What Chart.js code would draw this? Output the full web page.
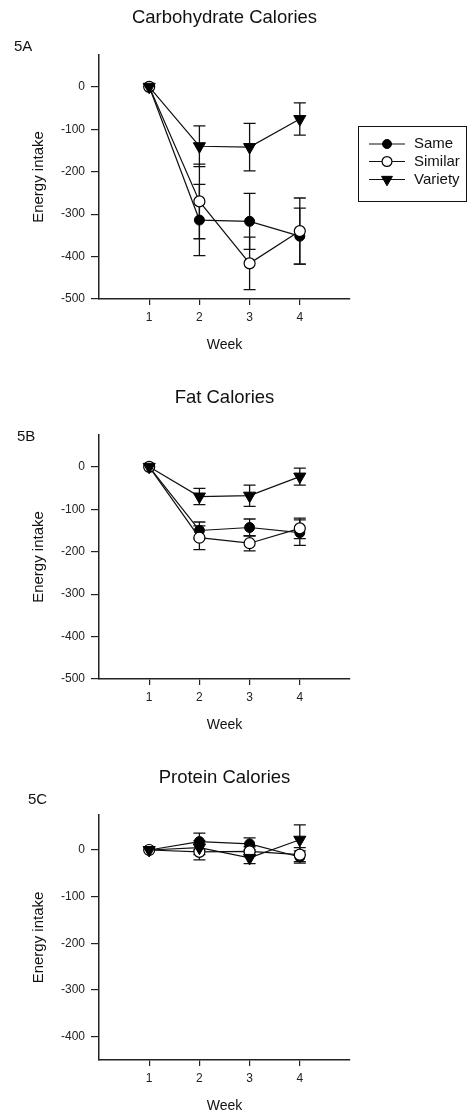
<!DOCTYPE html>
<html>
<head>
<meta charset="utf-8">
<title>Energy intake by week</title>
<script src="https://cdn.jsdelivr.net/npm/chart.js@4/dist/chart.umd.min.js"></script>
<style>
  html, body { margin: 0; padding: 0; background: #fff; overflow: hidden; }
  #page { position: relative; width: 468px; height: 1115px; overflow: hidden; }
  .panel { position: absolute; left: 0; width: 468px; }
  canvas { display: block; }
</style>
</head>
<body>
<div id="page">
  <div class="panel" style="top:0px"><canvas id="carb" width="468" height="360"></canvas></div>
  <div class="panel" style="top:380px"><canvas id="fat" width="468" height="360"></canvas></div>
  <div class="panel" style="top:760px"><canvas id="protein" width="468" height="360"></canvas></div>
</div>
<script>
// Study weeks and group names
const weeks = [1, 2, 3, 4];
const groupNames = ['Same', 'Similar', 'Variety'];

// Change in energy intake (mean and error) per group
const carbSame = [0, -314, -317, -352];
const carbSameErr = [0, 84, 66, 66];
const carbSimilar = [0, -270, -416, -340];
const carbSimilarErr = [0, 88, 62, 78];
const carbVariety = [0, -140, -142, -76];
const carbVarietyErr = [0, 48, 56, 38];

const fatSame = [0, -150, -143, -155];
const fatSameErr = [0, 20, 20, 30];
const fatSimilar = [0, -167, -180, -145];
const fatSimilarErr = [0, 28, 18, 24];
const fatVariety = [0, -70, -68, -23];
const fatVarietyErr = [0, 19, 25, 20];

const proteinSame = [0, 18, 13, -15];
const proteinSameErr = [0, 18, 13, 13];
const proteinSimilar = [0, -4, -3, -10];
const proteinSimilarErr = [0, 17, 10, 15];
const proteinVariety = [0, 5, -17, 22];
const proteinVarietyErr = [0, 15, 12, 32];

// Axis tick values
const yTicksFull = [0, -100, -200, -300, -400, -500];
const yTicksShort = [0, -100, -200, -300, -400];

const FONT = "'Liberation Sans', Arial, Helvetica, sans-serif";
const INK = '#111';

// Marker look for each group
const markerStyles = {
  Same:    { pointStyle: 'circle',   radius: 5,   rotation: 0,   fill: '#000', borderWidth: 1 },
  Similar: { pointStyle: 'circle',   radius: 5.5, rotation: 0,   fill: '#fff', borderWidth: 1.2 },
  Variety: { pointStyle: 'triangle', radius: 7,   rotation: 180, fill: '#000', borderWidth: 1 }
};

// Vertical error bars with caps, drawn under the markers
const errorBarPlugin = {
  id: 'errorBars',
  beforeDatasetsDraw(chart) {
    const { ctx } = chart;
    const xs = chart.scales.x, ys = chart.scales.y;
    ctx.save();
    ctx.strokeStyle = INK;
    ctx.lineWidth = 1.3;
    chart.data.datasets.forEach(ds => {
      const errs = ds.errorValues || [];
      ds.data.forEach((p, i) => {
        const e = errs[i];
        if (!e) return;
        const x = xs.getPixelForValue(p.x);
        const yTop = ys.getPixelForValue(p.y + e);
        const yBot = ys.getPixelForValue(p.y - e);
        ctx.beginPath();
        ctx.moveTo(x, yTop); ctx.lineTo(x, yBot);
        ctx.moveTo(x - 6, yTop); ctx.lineTo(x + 6, yTop);
        ctx.moveTo(x - 6, yBot); ctx.lineTo(x + 6, yBot);
        ctx.stroke();
      });
    });
    ctx.restore();
  }
};

// Figure panel tag such as "5A"
const panelTagPlugin = {
  id: 'panelTag',
  afterDraw(chart, args, opts) {
    if (!opts || !opts.text) return;
    const { ctx } = chart;
    ctx.save();
    ctx.font = `15px ${FONT}`;
    ctx.fillStyle = INK;
    ctx.textAlign = 'left';
    ctx.textBaseline = 'middle';
    ctx.fillText(opts.text, opts.x, opts.y);
    ctx.restore();
  }
};

// Boxed legend placed to the right of the plot
const boxLegendPlugin = {
  id: 'boxLegend',
  afterDraw(chart, args, opts) {
    if (!opts || !opts.display) return;
    const { ctx } = chart;
    const b = opts.box;
    ctx.save();
    ctx.strokeStyle = INK;
    ctx.lineWidth = 1;
    ctx.strokeRect(b.x, b.y, b.w, b.h);
    chart.data.datasets.forEach((ds, i) => {
      const y = opts.rows[i];
      const cx = (opts.lineX0 + opts.lineX1) / 2;
      ctx.strokeStyle = INK;
      ctx.lineWidth = 1.2;
      ctx.beginPath();
      ctx.moveTo(opts.lineX0, y); ctx.lineTo(opts.lineX1, y);
      ctx.stroke();
      ctx.fillStyle = ds.pointBackgroundColor;
      ctx.strokeStyle = ds.pointBorderColor;
      ctx.lineWidth = ds.pointBorderWidth;
      Chart.helpers.drawPoint(ctx, {
        pointStyle: ds.pointStyle,
        radius: ds.pointRadius * 0.9,
        rotation: ds.pointRotation,
        borderWidth: ds.pointBorderWidth
      }, cx, y);
      ctx.font = `15px ${FONT}`;
      ctx.fillStyle = INK;
      ctx.textAlign = 'left';
      ctx.textBaseline = 'middle';
      ctx.fillText(ds.label, opts.textX, y);
    });
    ctx.restore();
  }
};

function series(name, values, errors) {
  const m = markerStyles[name];
  return {
    label: name,
    data: weeks.map((w, i) => ({ x: w, y: values[i] })),
    errorValues: errors,
    borderColor: INK,
    borderWidth: 1.2,
    tension: 0,
    fill: false,
    pointStyle: m.pointStyle,
    pointRadius: m.radius,
    pointRotation: m.rotation,
    pointBackgroundColor: m.fill,
    pointBorderColor: '#000',
    pointBorderWidth: m.borderWidth,
    pointHoverRadius: m.radius
  };
}

function makePanel(id, p) {
  const axisToWeek = 46.5;      // distance from x axis to the "Week" label centre
  const weekFont = 14;
  const weekOffset = p.xBox - axisToWeek;
  return new Chart(document.getElementById(id), {
    type: 'line',
    data: {
      datasets: [
        series(groupNames[0], p.same, p.sameErr),
        series(groupNames[1], p.similar, p.similarErr),
        series(groupNames[2], p.variety, p.varietyErr)
      ].map((d, i) => Object.assign(d, { order: 3 - i }))
    },
    options: {
      responsive: false,
      animation: false,
      events: [],
      layout: { padding: { left: 0, right: 118, top: 0, bottom: 0 } },
      plugins: {
        legend: { display: false },
        tooltip: { enabled: false },
        title: {
          display: true,
          text: p.title,
          fullSize: false,
          color: INK,
          font: { family: FONT, size: 18.5, weight: 'normal', lineHeight: 1.2 },
          padding: { top: 6.9, bottom: 25.9 }
        },
        panelTag: p.tag,
        boxLegend: p.legend || { display: false }
      },
      scales: {
        x: {
          type: 'linear',
          position: 'bottom',
          min: 0,
          max: 5,
          afterBuildTicks: s => { s.ticks = weeks.map(v => ({ value: v })); },
          afterFit: s => { s.height = p.xBox; },
          grid: { display: true, drawOnChartArea: false, drawTicks: true, tickLength: 6, color: '#222', lineWidth: 1.2 },
          border: { display: true, color: '#222', width: 1.5 },
          ticks: { color: '#222', padding: 5.3, font: { family: FONT, size: 12 } },
          title: {
            display: true,
            text: 'Week',
            color: INK,
            font: { family: FONT, size: weekFont, lineHeight: 1.2 },
            padding: { top: 0, bottom: weekOffset - weekFont * 0.6 }
          }
        },
        y: {
          type: 'linear',
          position: 'left',
          min: p.yMin,
          max: 75,
          afterBuildTicks: s => { s.ticks = p.yTicks.map(v => ({ value: v })); },
          afterFit: s => { s.width = 99; },
          grid: { display: true, drawOnChartArea: false, drawTicks: true, tickLength: 8, color: '#222', lineWidth: 1.2 },
          border: { display: true, color: '#222', width: 1.5 },
          ticks: { color: '#222', padding: 6, font: { family: FONT, size: 12 } },
          title: {
            display: true,
            text: 'Energy intake',
            color: INK,
            font: { family: FONT, size: 15, lineHeight: 1.2 },
            padding: { top: 29.5, bottom: 0 }
          }
        }
      }
    },
    plugins: [errorBarPlugin, panelTagPlugin, boxLegendPlugin]
  });
}

makePanel('carb', {
  title: 'Carbohydrate Calories',
  tag: { text: '5A', x: 14, y: 47 },
  same: carbSame, sameErr: carbSameErr,
  similar: carbSimilar, similarErr: carbSimilarErr,
  variety: carbVariety, varietyErr: carbVarietyErr,
  yMin: -500, yTicks: yTicksFull, xBox: 61,
  legend: {
    display: true,
    box: { x: 358.5, y: 126.5, w: 108, h: 75 },
    rows: [144, 161.5, 179.5],
    lineX0: 369, lineX1: 405, textX: 414
  }
});

makePanel('fat', {
  title: 'Fat Calories',
  tag: { text: '5B', x: 17, y: 57 },
  same: fatSame, sameErr: fatSameErr,
  similar: fatSimilar, similarErr: fatSimilarErr,
  variety: fatVariety, varietyErr: fatVarietyErr,
  yMin: -500, yTicks: yTicksFull, xBox: 61
});

makePanel('protein', {
  title: 'Protein Calories',
  tag: { text: '5C', x: 28, y: 40 },
  same: proteinSame, sameErr: proteinSameErr,
  similar: proteinSimilar, similarErr: proteinSimilarErr,
  variety: proteinVariety, varietyErr: proteinVarietyErr,
  yMin: -450, yTicks: yTicksShort, xBox: 60
});
</script>
</body>
</html>
